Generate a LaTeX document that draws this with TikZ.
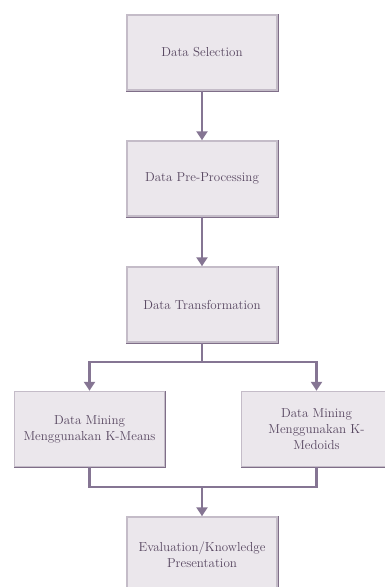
\documentclass[tikz,border=0pt]{standalone}
\usetikzlibrary{arrows.meta}
\definecolor{boxfill}{HTML}{EBE7EC}
\definecolor{boxedge}{HTML}{C4BCC8}
\definecolor{boxdark}{HTML}{7F6E88}
\definecolor{linecol}{HTML}{857593}
\definecolor{txtcol}{HTML}{574660}

\tikzset{stage/.style={rectangle, fill=boxfill, draw=boxedge, line width=1.5pt,
    minimum width=150pt, minimum height=75pt, align=center, text=txtcol,
    font=\fontsize{13}{16}\selectfont,
    append after command={\pgfextra{\draw[boxdark, line width=1.8pt]
      (\tikzlastnode.north east) -- (\tikzlastnode.south east) -- (\tikzlastnode.south west);}}},
  flow/.style={draw=linecol, line width=2.3pt},
  tip/.style={-{Triangle[width=11pt,length=9pt]}}}

\begin{document}
\begin{tikzpicture}[x=1pt, y=-1pt]
				\useasboundingbox (0,0) rectangle (384,587);
				% main line
				\node[stage] (sel) at (202,52.5) {Data Selection};
				\node[stage] (pre) at (202,178.5) {Data Pre-Processing};
				\node[stage] (trans) at (202,304.5) {Data Transformation};
				% two methods
				\node[stage] (km) at (89.5,429) {Data Mining\\Menggunakan K-Means};
				\node[stage] (kmd) at (316.5,429) {Data Mining\\Menggunakan K-\\Medoids};
				\node[stage] (eval) at (202,554.5) {Evaluation/Knowledge\\Presentation};
				\coordinate (split) at (202,362);
				\coordinate (merge) at (202,487);
				\draw[flow, tip] (sel) -- (pre);
				\draw[flow, tip] (pre) -- (trans);
				\draw[flow] (trans) -- (split);
				\draw[flow, tip] (split) -| (km);
				\draw[flow, tip] (split) -| (kmd);
				\draw[flow] (km) |- (merge);
				\draw[flow] (kmd) |- (merge);
				\draw[flow, tip] (merge) -- (eval);
			\end{tikzpicture}
\end{document}
